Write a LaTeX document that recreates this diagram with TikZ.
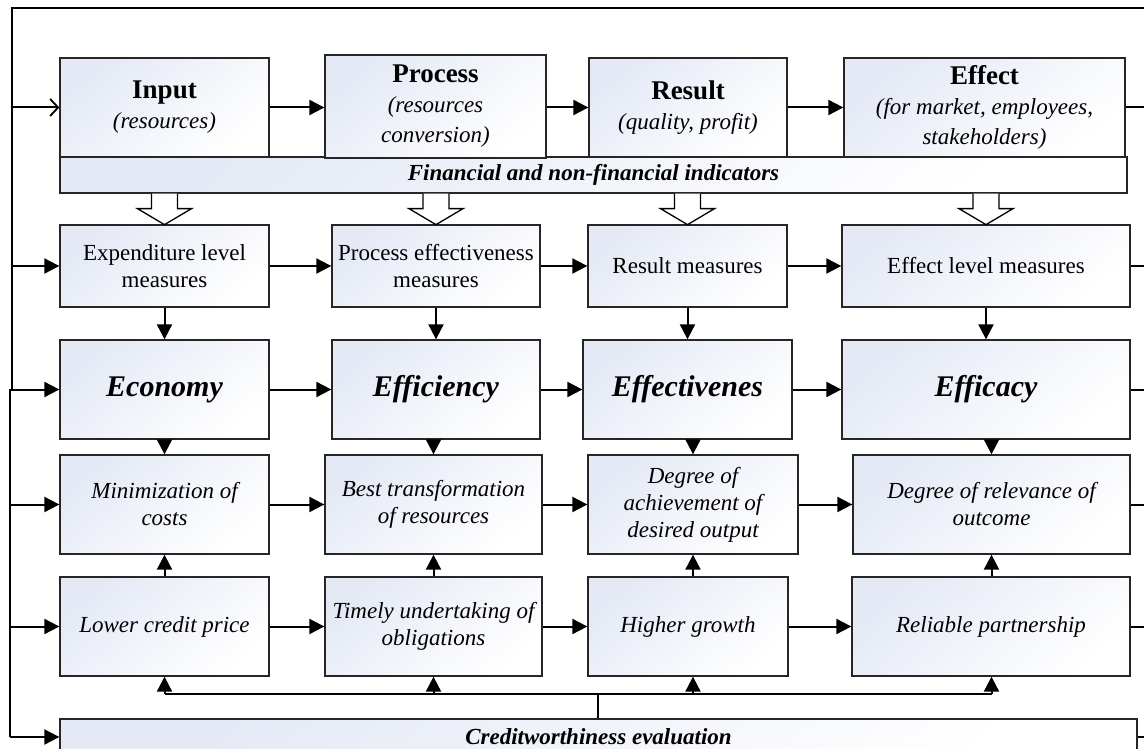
\documentclass[tikz,border=0pt]{standalone}
\usepackage{fontspec}
\setmainfont{Liberation Serif}
\usetikzlibrary{arrows.meta,calc}
\definecolor{boxc}{HTML}{E4E9F5}
\begin{document}
\begin{tikzpicture}[x=1pt,y=-1pt,
  box/.style={draw=black!85, line width=1.3pt, top color=boxc, bottom color=white, shading angle=40,
    inner sep=1pt, align=center, font=\fontsize{23}{27}\selectfont},
  toprow/.style={box, font=\fontsize{23}{30}\selectfont\itshape},
  midrow/.style={box, font=\fontsize{30}{34}\selectfont\bfseries\itshape},
  itrow/.style={box, font=\fontsize{23}{27}\selectfont\itshape},
  bar/.style={box, font=\fontsize{23}{27}\selectfont\bfseries\itshape},
  ln/.style={line width=2pt},
  arr/.style={line width=2pt, -{Triangle[length=15pt,width=15pt]}},
  openarr/.style={line width=2pt, -{Straight Barb[length=8pt,width=17pt,line width=1.8pt]}},
  hollowarr/.style={draw=black, line width=1.3pt, fill=white, line join=miter}
]
\useasboundingbox (0,0) rectangle (1144,749);

% top row with indicator bar
\node[bar, minimum width=1067pt, minimum height=36pt] (bar1) at (593.5,175) {Financial and non-financial indicators};
\node[toprow, minimum width=209pt, minimum height=99pt] (in) at (164.5,107.5) {{\fontsize{27}{31}\selectfont\bfseries\upshape Input}\\(resources)};
\node[toprow, minimum width=221pt, minimum height=103pt] (pr) at (435.5,106.5) {\rule{0pt}{12pt}{\fontsize{27}{31}\selectfont\bfseries\upshape Process}\\(resources\\conversion)};
\node[toprow, minimum width=198pt, minimum height=99pt] (re) at (688,107.5) {{\fontsize{27}{31}\selectfont\bfseries\upshape Result}\\(quality, profit)};
\node[toprow, minimum width=281pt, minimum height=99pt] (ef) at (984.5,107.5) {\rule{0pt}{12pt}{\fontsize{27}{31}\selectfont\bfseries\upshape Effect}\\(for market, employees,\\stakeholders)};

% measures row
\node[box, minimum width=209pt, minimum height=82pt] (m1) at (164.5,266) {Expenditure level\\measures};
\node[box, minimum width=208pt, minimum height=82pt] (m2) at (436,266) {Process effectiveness\\measures};
\node[box, minimum width=199pt, minimum height=82pt] (m3) at (687.5,266) {Result measures};
\node[box, minimum width=288pt, minimum height=82pt] (m4) at (986,266) {Effect level measures};

% E row
\node[midrow, minimum width=209pt, minimum height=99pt] (e1) at (164.5,389.5) {Economy};
\node[midrow, minimum width=208pt, minimum height=99pt] (e2) at (436,389.5) {Efficiency};
\node[midrow, minimum width=209pt, minimum height=99pt] (e3) at (687.5,389.5) {Effectivenes};
\node[midrow, minimum width=288pt, minimum height=99pt] (e4) at (986,389.5) {Efficacy};

% goals row
\node[itrow, minimum width=209pt, minimum height=99pt] (d1) at (164.5,504.5) {Minimization of\\costs};
\node[itrow, minimum width=217pt, minimum height=99pt] (d2) at (433.5,504.5) {Best transformation\\of resources};
\node[itrow, minimum width=210pt, minimum height=99pt] (d3) at (693,504.5) {Degree of\\achievement of\\desired output};
\node[itrow, minimum width=277pt, minimum height=99pt] (d4) at (991.5,504.5) {Degree of relevance of\\outcome};

% credit row
\node[itrow, minimum width=209pt, minimum height=99pt] (l1) at (164.5,626.5) {Lower credit price};
\node[itrow, minimum width=217pt, minimum height=99pt] (l2) at (433.5,626.5) {Timely undertaking of\\obligations};
\node[itrow, minimum width=200pt, minimum height=99pt] (l3) at (688,626.5) {Higher growth};
\node[itrow, minimum width=278pt, minimum height=99pt] (l4) at (991,626.5) {Reliable partnership};

% creditworthiness bar
\node[bar, minimum width=1077pt, minimum height=36pt] (bar2) at (598.5,737) {Creditworthiness evaluation};

% frame coordinates
\coordinate (TL) at (12,8);
\coordinate (TR) at (1160,8);
\coordinate (R) at (1160,0);
\coordinate (LA) at (12,0);
\coordinate (LB) at (10,0);
\coordinate (J) at (598,694);

% feedback loop on the left
\draw[ln] (TR) -- (TL) -- (LA |- e1);
\draw[ln] (LA |- e1) -- (LB |- e1) -- (LB |- bar2);
\draw[openarr] (LA |- in) -- (in.west);
\draw[arr] (LA |- m1) -- (m1.west);
\draw[arr] (LA |- e1) -- (e1.west);
\draw[arr] (LB |- d1) -- (d1.west);
\draw[arr] (LB |- l1) -- (l1.west);
\draw[arr] (LB |- bar2) -- (bar2.west);

% horizontal flows
\draw[arr] (in.east) -- (in.east -| pr.west);
\draw[arr] (in.east -| pr.east) -- (in.east -| re.west);
\draw[arr] (re.east) -- (re.east -| ef.west);
\draw[ln] (re.east -| ef.east) -- (re.east -| R);
\foreach \r in {m,e,d,l}{
  \draw[arr] (\r1.east) -- (\r1.east -| \r2.west);
  \draw[arr] (\r1.east -| \r2.east) -- (\r1.east -| \r3.west);
  \draw[arr] (\r1.east -| \r3.east) -- (\r1.east -| \r4.west);
  \draw[ln] (\r4.east) -- (\r4.east -| R);
}
\draw[ln] (bar2.east) -- (bar2.east -| R);

% hollow arrows from indicator bar
\foreach \n in {m1,m2,m3,m4}{
  \draw[hollowarr, shift={(bar1.south -| \n)}] (-13,0) -- (-13,15) -- (-27,15) -- (0,31) -- (27,15) -- (13,15) -- (13,0);
}

% vertical arrows
\foreach \i in {1,2,3,4}{
  \draw[arr] (m\i.south) -- (e\i.north -| m\i);
  \draw[arr] (e\i.south -| d\i) -- (d\i.north);
  \draw[arr] (l\i.north -| d\i) -- (d\i.south);
}

% credit evaluation distribution
\draw[ln] (bar2.north -| J) -- (J);
\draw[ln] (J -| l1) -- (J -| d4);
\draw[arr] (J -| l1) -- (l1.south);
\draw[arr] (J -| l2) -- (l2.south);
\draw[arr] (J -| d3) -- (l3.south -| d3);
\draw[arr] (J -| d4) -- (l4.south -| d4);
\end{tikzpicture}
\end{document}
